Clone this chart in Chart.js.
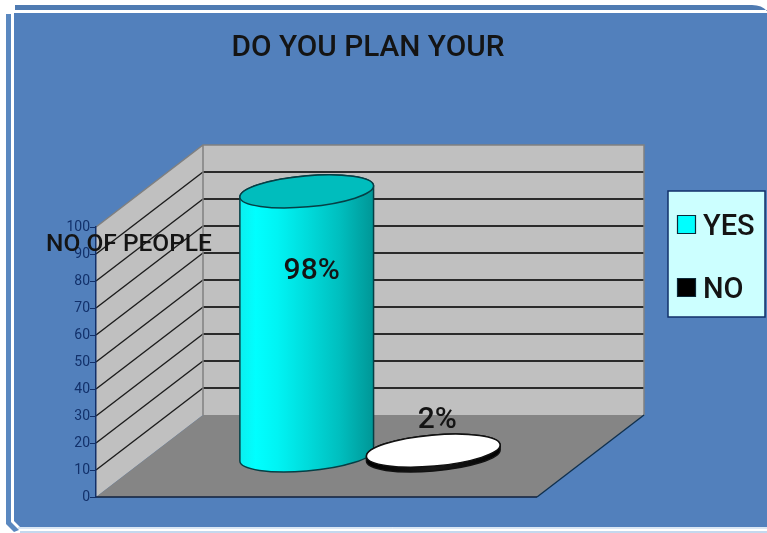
<!DOCTYPE html>
<html>
<head>
<meta charset="utf-8">
<title>DO YOU PLAN YOUR</title>
<script src="https://cdn.jsdelivr.net/npm/chart.js@4/dist/chart.umd.min.js"></script>
<style>
  html, body { margin: 0; padding: 0; background: #fff; }
  canvas { display: block; }
</style>
</head>
<body>
<canvas id="planChart" width="767" height="533"></canvas>
<script>
// Survey answers
const chartTitle = 'DO YOU PLAN YOUR';
const axisTitle = 'NO OF PEOPLE';
const categories = [''];
const seriesNames = ['YES', 'NO'];
const yesValues = [98];
const noValues = [2];
const valueLabels = ['98%', '2%'];

const FONT = 'Roboto, "Noto Sans", sans-serif';
const PANEL_BLUE = '#5280BC';
const TEXT_DARK = '#141414';
const AXIS_NAVY = '#12306A';

// How far the back wall sits behind the front plane
const DEPTH_X = 107;
const DEPTH_Y = 82;
const ELLIPSE_RY = 15.5;
const ELLIPSE_TILT = -5 * Math.PI / 180;

function polygon(ctx, pts, fill, stroke, lineWidth) {
    ctx.beginPath();
    pts.forEach((p, i) => i ? ctx.lineTo(p[0], p[1]) : ctx.moveTo(p[0], p[1]));
    ctx.closePath();
    if (fill) { ctx.fillStyle = fill; ctx.fill(); }
    if (stroke) { ctx.strokeStyle = stroke; ctx.lineWidth = lineWidth || 1; ctx.stroke(); }
}

function line(ctx, x1, y1, x2, y2, color, width) {
    ctx.beginPath();
    ctx.moveTo(x1, y1);
    ctx.lineTo(x2, y2);
    ctx.strokeStyle = color;
    ctx.lineWidth = width;
    ctx.stroke();
}

function text(ctx, str, x, y, size, align) {
    ctx.font = '500 ' + size + 'px ' + FONT;
    ctx.fillStyle = TEXT_DARK;
    ctx.textAlign = align || 'center';
    ctx.textBaseline = 'middle';
    ctx.fillText(str, x, y);
}

// Rounded frame behind the whole chart
function drawFrame(ctx, w, h) {
    ctx.fillStyle = '#fff';
    ctx.fillRect(0, 0, w, h);
    ctx.beginPath();
    ctx.moveTo(15, 5);
    ctx.lineTo(752, 5);
    ctx.quadraticCurveTo(762, 5, 767, 11);
    ctx.lineTo(767, 10);
    ctx.lineTo(15, 10);
    ctx.closePath();
    ctx.fillStyle = '#4F7BB2';
    ctx.fill();
    polygon(ctx, [[6, 14], [11, 14], [11, 522], [19, 530], [14, 532], [6, 524]], '#5A88C0');
    polygon(ctx, [[14, 13], [w, 13], [w, 527], [20, 527], [14, 521]], PANEL_BLUE);
    polygon(ctx, [[20, 531], [w, 531], [w, h], [20, h]], '#C4D8EE');
    line(ctx, 18, 528, w, 528, '#B5CFEA', 1);
}

// Side wall, back wall, floor and gridlines of the box
function drawBox(chart) {
    const ctx = chart.ctx;
    const y = chart.scales.y;
    const area = chart.chartArea;
    const y0 = y.getPixelForValue(0);
    const yMax = y.getPixelForValue(100);
    const bx = area.left + DEPTH_X;
    const bxr = area.right + DEPTH_X;

    polygon(ctx, [[bx, y0 - DEPTH_Y], [bxr, y0 - DEPTH_Y], [bxr, yMax - DEPTH_Y], [bx, yMax - DEPTH_Y]], '#C0C0C0');
    polygon(ctx, [[area.left, y0], [bx, y0 - DEPTH_Y], [bx, yMax - DEPTH_Y], [area.left, yMax]], '#C0C0C0');
    polygon(ctx, [[area.left, y0], [area.right, y0], [bxr, y0 - DEPTH_Y], [bx, y0 - DEPTH_Y]], '#858585');

    y.ticks.forEach(t => {
        if (t.value === 0 || t.value === 100) return;
        const py = y.getPixelForValue(t.value);
        line(ctx, area.left, py, bx, py - DEPTH_Y, '#1c1c1c', 1.4);
        line(ctx, bx, py - DEPTH_Y, bxr, py - DEPTH_Y, '#2a2a2a', 1.8);
    });

    ctx.beginPath();
    ctx.moveTo(area.left, yMax);
    ctx.lineTo(bx, yMax - DEPTH_Y);
    ctx.lineTo(bxr, yMax - DEPTH_Y);
    ctx.lineTo(bxr, y0 - DEPTH_Y);
    ctx.moveTo(bx, yMax - DEPTH_Y);
    ctx.lineTo(bx, y0 - DEPTH_Y);
    ctx.strokeStyle = '#808080';
    ctx.lineWidth = 1.5;
    ctx.stroke();

    line(ctx, area.left, y0, area.right, y0, '#10203c', 1.6);
    line(ctx, area.right, y0, bxr, y0 - DEPTH_Y, '#10304e', 1.4);
}

// One cylinder from the bar element that the scales laid out
function drawCylinder(ctx, bar, ds) {
    const cx = bar.x + DEPTH_X / 2;
    const yTop = bar.y - DEPTH_Y / 2;
    const yBase = bar.base - DEPTH_Y / 2;
    const rx = bar.width / 2;
    const t0 = Math.atan(-(ELLIPSE_RY / rx) * Math.tan(ELLIPSE_TILT));

    const shade = ctx.createLinearGradient(cx - rx, 0, cx + rx, 0);
    ds.sideStops.forEach(s => shade.addColorStop(s[0], s[1]));

    ctx.beginPath();
    ctx.ellipse(cx, yBase, rx, ELLIPSE_RY, ELLIPSE_TILT, t0, t0 + Math.PI);
    ctx.ellipse(cx, yTop, rx, ELLIPSE_RY, ELLIPSE_TILT, t0 + Math.PI, t0);
    ctx.closePath();
    ctx.fillStyle = shade;
    ctx.fill();
    ctx.strokeStyle = ds.outline;
    ctx.lineWidth = 1.5;
    ctx.stroke();

    ctx.beginPath();
    ctx.ellipse(cx, yTop, rx, ELLIPSE_RY, ELLIPSE_TILT, 0, Math.PI * 2);
    ctx.fillStyle = ds.topColor;
    ctx.fill();
    ctx.stroke();
}

function drawLegend(chart) {
    const ctx = chart.ctx;
    polygon(ctx, [[668, 191], [765, 191], [765, 317], [668, 317]], '#CCFFFF', '#12306A', 1.5);
    chart.data.datasets.forEach((ds, i) => {
        const y = 225 + i * 63;
        polygon(ctx, [[677.5, y - 9.5], [695.5, y - 9.5], [695.5, y + 8.5], [677.5, y + 8.5]], ds.backgroundColor, '#0b2a3a', 1.2);
        text(ctx, ds.label, 703, y + 3, 29, 'left');
    });
}

const cylinderPlugin = {
    id: 'cylinders',
    beforeDraw(chart) {
        drawFrame(chart.ctx, chart.width, chart.height);
        drawBox(chart);
    },
    // the flat bars are replaced by cylinders, so skip the default drawing
    beforeDatasetsDraw(chart) {
        chart.data.datasets.forEach((ds, i) => {
            chart.getDatasetMeta(i).data.forEach(bar => drawCylinder(chart.ctx, bar, ds));
        });
        return false;
    },
    afterDraw(chart) {
        const ctx = chart.ctx;
        text(ctx, chartTitle, 368, 49, 29.8);
        text(ctx, axisTitle, 129, 245, 24.5);
        chart.data.datasets.forEach((ds, i) => {
            const bar = chart.getDatasetMeta(i).data[0];
            text(ctx, valueLabels[i], bar.x + DEPTH_X / 2 + ds.labelDx, bar.y - DEPTH_Y / 2 + ds.labelDy, 30);
        });
        drawLegend(chart);
    }
};

new Chart(document.getElementById('planChart').getContext('2d'), {
    type: 'bar',
    data: {
        labels: categories,
        datasets: [
            {
                label: seriesNames[0],
                data: yesValues,
                backgroundColor: '#00FFFF',
                topColor: '#00BDBD',
                outline: '#063F45',
                sideStops: [[0, '#0BEFEF'], [0.12, '#00FFFF'], [0.28, '#00F4F4'], [0.5, '#00DCDC'], [0.75, '#00BEBE'], [1, '#009696']],
                labelDx: 5,
                labelDy: 80
            },
            {
                label: seriesNames[1],
                data: noValues,
                backgroundColor: '#000000',
                topColor: '#FFFFFF',
                outline: '#111111',
                sideStops: [[0, '#000000'], [0.5, '#1a1a1a'], [1, '#000000']],
                labelDx: 4,
                labelDy: -30
            }
        ]
    },
    options: {
        responsive: false,
        animation: false,
        categoryPercentage: 0.574,
        barPercentage: 1.06,
        layout: { autoPadding: false, padding: { left: 0, right: 230, top: 227, bottom: 36 } },
        plugins: {
            legend: { display: false },
            title: { display: false },
            tooltip: { enabled: false }
        },
        scales: {
            x: { display: false },
            y: {
                min: 0,
                max: 100,
                afterFit(axis) { axis.width = 96; },
                ticks: {
                    stepSize: 10,
                    padding: 0,
                    color: AXIS_NAVY,
                    font: { family: FONT, size: 14 }
                },
                grid: { drawOnChartArea: false, drawTicks: true, tickLength: 6, color: AXIS_NAVY },
                border: { color: AXIS_NAVY, width: 1.5 }
            }
        }
    },
    plugins: [cylinderPlugin]
});
</script>
</body>
</html>
